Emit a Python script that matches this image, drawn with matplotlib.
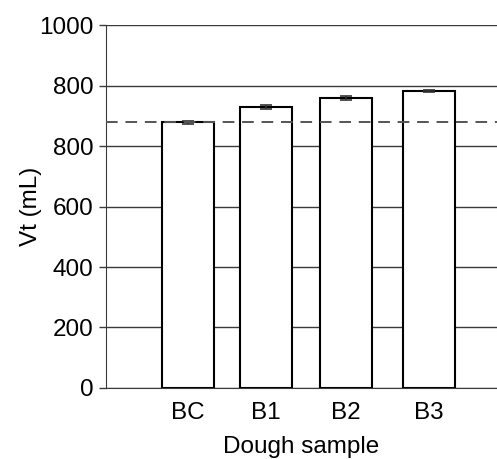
import numpy as np
import matplotlib.pyplot as plt

plt.rcParams['font.family'] = ['Liberation Sans', 'DejaVu Sans']

samples = ['BC', 'B1', 'B2', 'B3']
vt = [879, 930, 958, 982]
vt_err = [5, 6, 7, 4]
y_ticks = [0, 200, 400, 600, 800, 1000, 1200]
# the original figure prints these labels on its axis (with the repeated 800)
y_tick_labels = ['0', '200', '400', '600', '800', '800', '1000']

fig = plt.figure(figsize=(4.97, 4.59), dpi=100)
ax = fig.add_axes([0.213, 0.1547, 0.787, 0.7908])

x = np.array([0.0, 0.97, 1.97, 3.0])

for t in y_ticks:
    ax.axhline(t, color='#3a3a3a', lw=1.0, zorder=1)

ax.bar(x, vt, width=0.65, color='white', edgecolor='black', linewidth=1.5, zorder=2)
ax.errorbar(x, vt, yerr=vt_err, fmt='none', ecolor='#333333', elinewidth=1.2,
            capsize=4, capthick=1.2, zorder=3)
ax.axhline(vt[0], color='#555555', lw=1.4, ls=(0, (6, 4)), zorder=4)

ax.set_xlim(-1.02, 3.85)
ax.set_ylim(0, 1200)
ax.set_yticks(y_ticks)
ax.set_yticklabels(y_tick_labels)
ax.set_xticks(x)
ax.set_xticklabels(samples)

for s in ['top', 'right']:
    ax.spines[s].set_visible(False)
ax.spines['left'].set_color('#3a3a3a')
ax.spines['bottom'].set_color('#3a3a3a')
ax.tick_params(axis='y', length=5, width=1, color='#3a3a3a', labelsize=17.5, pad=4)
ax.tick_params(axis='x', length=0, labelsize=17.5, pad=10)

ax.set_ylabel('Vt (mL)', fontsize=17.5, labelpad=-2)
ax.set_xlabel('Dough sample', fontsize=17.5, labelpad=9)

fig.savefig('out.png', dpi=100)
